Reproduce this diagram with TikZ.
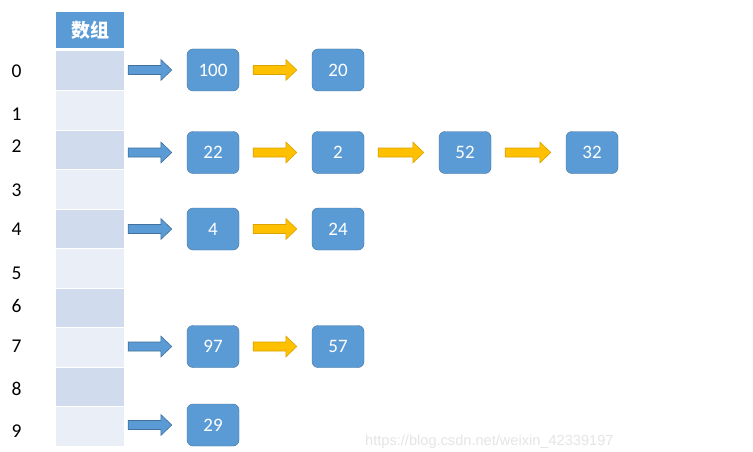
\documentclass[tikz,border=0pt]{standalone}
\usepackage{fontspec}
\setmainfont{Carlito}
\newfontfamily\cjk{Noto Sans CJK SC}
\newfontfamily\wmfont{Liberation Sans}
\usepackage{tikz}
\usetikzlibrary{calc}
\definecolor{boxblue}{HTML}{5B9BD5}
\definecolor{boxline}{HTML}{41719C}
\definecolor{celldark}{HTML}{D0DBEE}
\definecolor{celllight}{HTML}{E9EEF7}
\definecolor{arryellow}{HTML}{FFC000}
\definecolor{yellowline}{HTML}{D9A300}

\begin{document}
\begin{tikzpicture}[x=1pt,y=-1pt,
	cell/.style={minimum width=68pt,minimum height=38.5pt,inner sep=0pt},
	item/.style={draw=boxline,fill=boxblue,rounded corners=6pt,minimum width=52pt,
		minimum height=42pt,inner sep=0pt,text=white,font=\fontsize{19}{19}\selectfont},
	blockarr/.style={line width=0.6pt,to path={let \p1=(\tikztostart),\p2=(\tikztotarget) in
		(\x1,\y2+4.5pt)--(\x2-11pt,\y2+4.5pt)--(\x2-11pt,\y2+10.5pt)--(\x2,\y2)
		--(\x2-11pt,\y2-10.5pt)--(\x2-11pt,\y2-4.5pt)--(\x1,\y2-4.5pt)--cycle}},
	bluearr/.style={blockarr,draw=boxline,fill=boxblue},
	yellowarr/.style={blockarr,draw=yellowline,fill=arryellow}]
	\clip (0,0) rectangle (753,452);
	\fill[white] (0,0) rectangle (753,452);
	
	% array
	\node[fill=boxblue,minimum width=68pt,minimum height=36pt,inner sep=0pt,
		text=white,font=\cjk\bfseries\fontsize{19}{19}\selectfont] (head) at (90,30) {数组};
	\foreach \i in {0,2,4,6,8}
		\node[cell,fill=celldark] (c\i) at (90,70.75+39.5*\i) {};
	\foreach \i in {1,3,5,7,9}
		\node[cell,fill=celllight] (c\i) at (90,70.75+39.5*\i) {};
	\foreach \i/\y in {0/71,1/114,2/146.5,3/190,4/229.5,5/273,6/305.5,7/346.5,8/388.5,9/431.5}
		\node[font=\fontsize{19.5}{19.5}\selectfont] (l\i) at (16.5,\y) {\i};
	
	% lists
	\node[item] (n00) at (213,70) {100};
	\node[item] (n01) at (338,70) {20};
	
	\node[item] (n20) at (213,152.5) {22};
	\node[item] (n21) at (338,152.5) {2};
	\node[item] (n22) at (465,152.5) {52};
	\node[item] (n23) at (592,152.5) {32};
	
	\node[item] (n40) at (213,229) {4};
	\node[item] (n41) at (338,229) {24};
	
	\node[item] (n70) at (213,346.5) {97};
	\node[item] (n71) at (338,346.5) {57};
	
	\node[item] (n90) at (213,425) {29};
	
	\draw[bluearr] ([xshift=4pt]c0.east) to ([xshift=-15pt]n00.west);
	\draw[bluearr] ([xshift=4pt]c2.east) to ([xshift=-15pt]n20.west);
	\draw[bluearr] ([xshift=4pt]c4.east) to ([xshift=-15pt]n40.west);
	\draw[bluearr] ([xshift=4pt]c7.east) to ([xshift=-15pt]n70.west);
	\draw[bluearr] ([xshift=4pt]c9.east) to ([xshift=-15pt]n90.west);
	
	\draw[yellowarr] ([xshift=14pt]n00.east) to ([xshift=-15pt]n01.west);
	\draw[yellowarr] ([xshift=14pt]n20.east) to ([xshift=-15pt]n21.west);
	\draw[yellowarr] ([xshift=14pt]n21.east) to ([xshift=-15pt]n22.west);
	\draw[yellowarr] ([xshift=14pt]n22.east) to ([xshift=-15pt]n23.west);
	\draw[yellowarr] ([xshift=14pt]n40.east) to ([xshift=-15pt]n41.west);
	\draw[yellowarr] ([xshift=14pt]n70.east) to ([xshift=-15pt]n71.west);
	
	\node[text=black!10,font=\wmfont\fontsize{14.6}{14.6}\selectfont,anchor=west,inner sep=0pt] (wm) at (365,442) {https://blog.csdn.net/weixin\_42339197};
\end{tikzpicture}
\end{document}
